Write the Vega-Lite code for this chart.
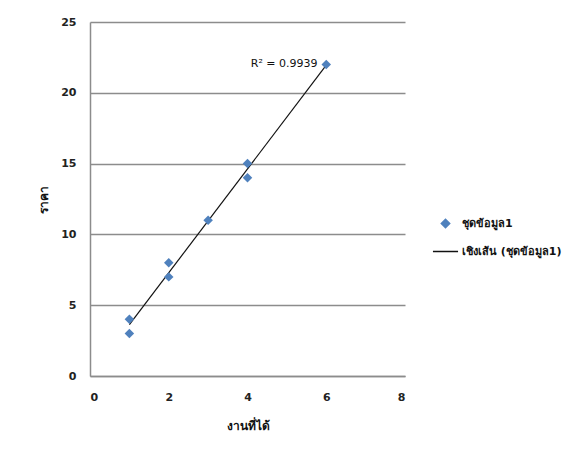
{
  "$schema": "https://vega.github.io/schema/vega-lite/v6.json",
  "width": 315,
  "height": 354,
  "autosize": {"type": "none"},
  "padding": {"left": 90, "top": 22, "right": 181, "bottom": 86},
  "background": "white",
  "config": {
    "view": {"stroke": null},
    "font": "DejaVu Sans",
    "axis": {"labelFont": "DejaVu Sans", "titleFont": "DejaVu Sans"}
  },
  "datasets": {
    "pts": [
      {"x": 1, "y": 4, "series": "ชุดข้อมูล1"},
      {"x": 1, "y": 3, "series": "ชุดข้อมูล1"},
      {"x": 2, "y": 8, "series": "ชุดข้อมูล1"},
      {"x": 2, "y": 7, "series": "ชุดข้อมูล1"},
      {"x": 3, "y": 11, "series": "ชุดข้อมูล1"},
      {"x": 4, "y": 15, "series": "ชุดข้อมูล1"},
      {"x": 4, "y": 14, "series": "ชุดข้อมูล1"},
      {"x": 6, "y": 22, "series": "ชุดข้อมูล1"}
    ],
    "ann": [{"x": 5.78, "y": 22, "label": "R² = 0.9939"}]
  },
  "layer": [
    {
      "data": {"name": "pts"},
      "transform": [
        {"regression": "y", "on": "x"},
        {"calculate": "'เชิงเส้น (ชุดข้อมูล1)'", "as": "series"}
      ],
      "mark": {"type": "line", "strokeWidth": 1.2},
      "encoding": {
        "x": {"field": "x", "type": "quantitative"},
        "y": {"field": "y", "type": "quantitative"},
        "color": {"field": "series", "type": "nominal"}
      }
    },
    {
      "data": {"name": "pts"},
      "mark": {"type": "point", "filled": true, "opacity": 1, "size": 90},
      "encoding": {
        "x": {
          "field": "x", "type": "quantitative",
          "scale": {"domain": [0, 8], "nice": false},
          "axis": {
            "title": "งานที่ได้", "values": [0, 2, 4, 6, 8], "grid": false,
            "ticks": false, "domainColor": "#8c8c8c", "domainWidth": 1.5,
            "labelFontSize": 11, "labelFontWeight": "bold", "labelColor": "#222",
            "labelPadding": 15, "titleFontSize": 12, "titleFontWeight": "bold",
            "titlePadding": 18, "titleColor": "#111"
          }
        },
        "y": {
          "field": "y", "type": "quantitative",
          "scale": {"domain": [0, 25], "nice": false},
          "axis": {
            "title": "ราคา", "values": [0, 5, 10, 15, 20, 25], "grid": true,
            "gridColor": "#8c8c8c", "gridWidth": 1.5,
            "ticks": false, "domainColor": "#8c8c8c", "domainWidth": 1.5,
            "labelFontSize": 11, "labelFontWeight": "bold", "labelColor": "#222",
            "labelPadding": 14, "titleFontSize": 12, "titleFontWeight": "bold",
            "titlePadding": 10, "titleColor": "#111"
          }
        },
        "color": {
          "field": "series", "type": "nominal",
          "scale": {"domain": ["ชุดข้อมูล1", "เชิงเส้น (ชุดข้อมูล1)"], "range": ["#4F81BD", "#111111"]},
          "legend": {
            "title": null, "orient": "none", "legendX": 350, "legendY": 196,
            "labelFontSize": 11, "labelFontWeight": "bold", "labelColor": "#111",
            "rowPadding": 14, "symbolSize": 70, "symbolStrokeWidth": 1.5, "labelOffset": 11
          }
        },
        "shape": {
          "field": "series", "type": "nominal",
          "scale": {"domain": ["ชุดข้อมูล1", "เชิงเส้น (ชุดข้อมูล1)"], "range": ["diamond", "M-3,0H3"]},
          "legend": {
            "title": null, "orient": "none", "legendX": 350, "legendY": 196,
            "labelFontSize": 11, "labelFontWeight": "bold", "labelColor": "#111",
            "rowPadding": 14, "symbolSize": 70, "symbolStrokeWidth": 1.5, "labelOffset": 11
          }
        }
      }
    },
    {
      "data": {"name": "ann"},
      "mark": {"type": "text", "align": "right", "baseline": "middle", "fontSize": 11, "color": "#111"},
      "encoding": {
        "x": {"field": "x", "type": "quantitative"},
        "y": {"field": "y", "type": "quantitative"},
        "text": {"field": "label"}
      }
    }
  ]
}
